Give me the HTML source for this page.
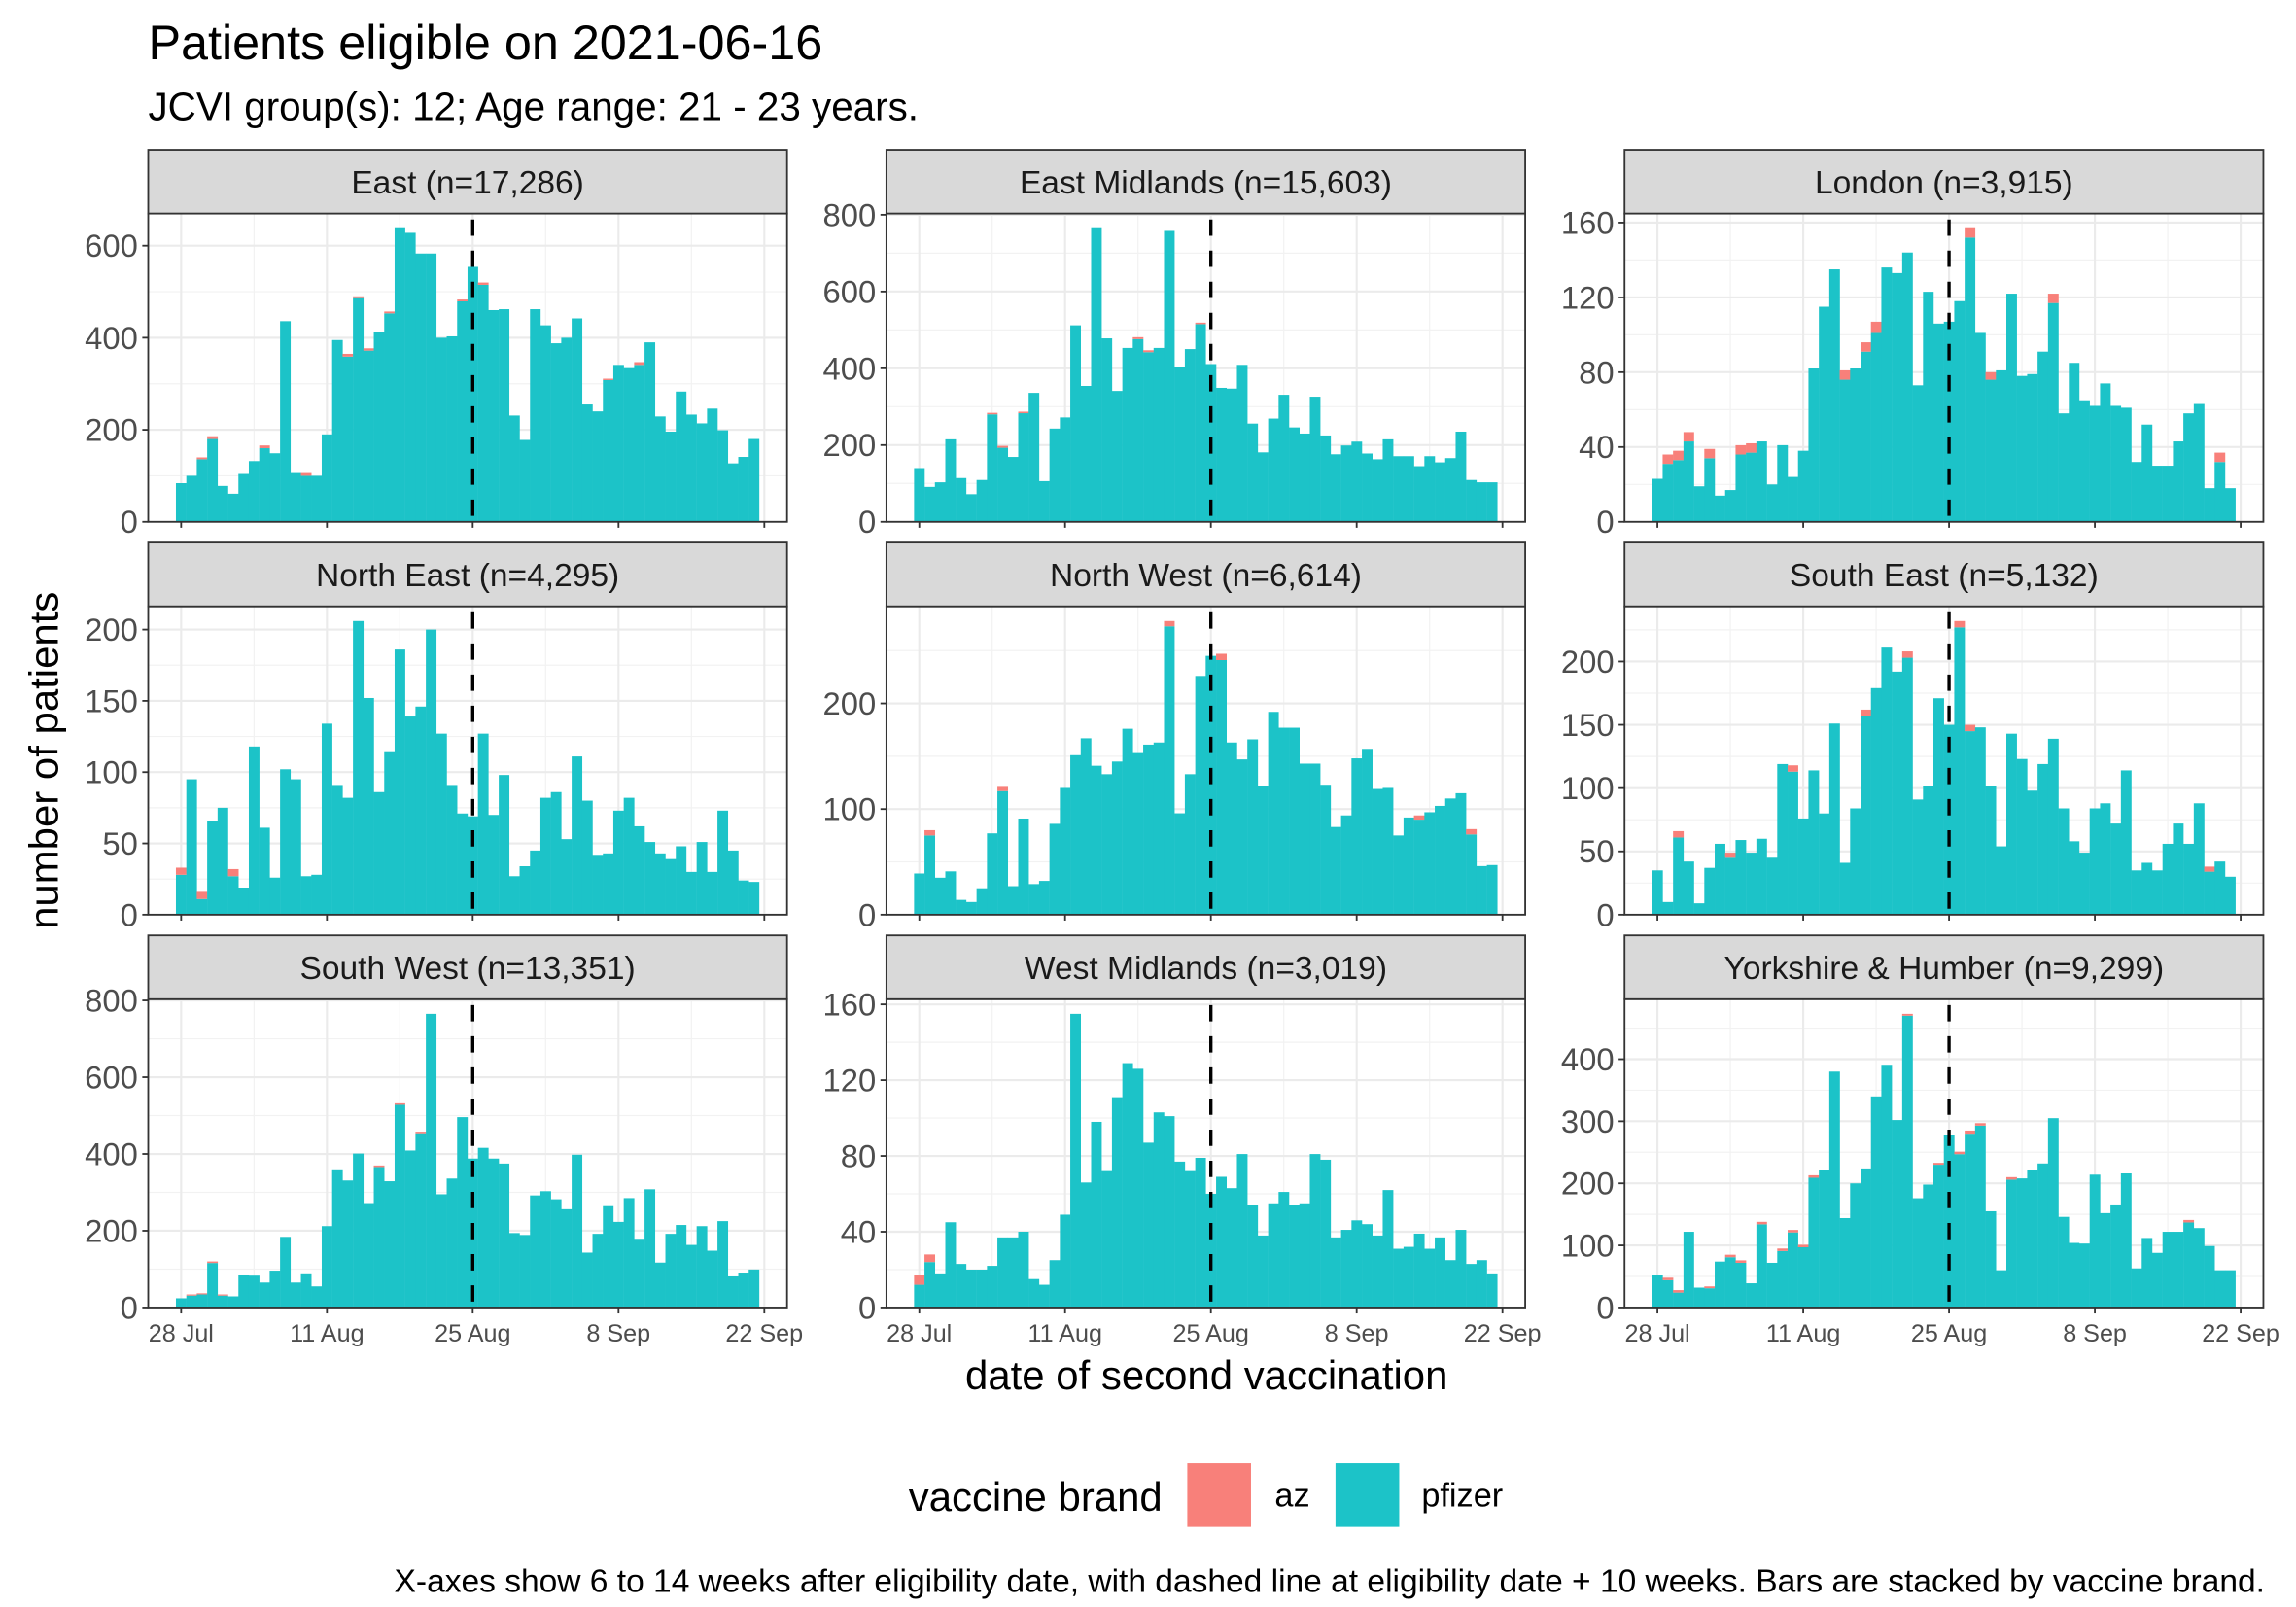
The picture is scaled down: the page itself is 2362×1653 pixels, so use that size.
<!DOCTYPE html>
<html><head><meta charset="utf-8"><style>
html,body{margin:0;padding:0;background:#fff;}
svg{display:block;font-family:"Liberation Sans",Arial,sans-serif;}
</style></head><body>
<svg id="chart" width="2362" height="1653" viewBox="0 0 1549 1084" xmlns="http://www.w3.org/2000/svg">
<text x="100" y="40" font-size="33" fill="#000">Patients eligible on 2021-06-16</text>
<text x="100" y="81" font-size="26.5" fill="#000">JCVI group(s): 12; Age range: 21 - 23 years.</text>
<text transform="translate(39,513) rotate(-90)" text-anchor="middle" font-size="27.5" fill="#000">number of patients</text>
<text x="814" y="937" text-anchor="middle" font-size="27.5" fill="#000">date of second vaccination</text>
<g>
<text x="613" y="1019" font-size="27.5" fill="#000">vaccine brand</text>
<rect x="801" y="987" width="43" height="43" fill="#f8807a"/>
<text x="860" y="1016" font-size="22.5" fill="#000">az</text>
<rect x="901" y="987" width="43" height="43" fill="#1cc3c8"/>
<text x="959" y="1016" font-size="22.5" fill="#000">pfizer</text>
</g>
<text x="1528" y="1074" text-anchor="end" font-size="22" fill="#000">X-axes show 6 to 14 weeks after eligibility date, with dashed line at eligibility date + 10 weeks. Bars are stacked by vaccine brand.</text>
<g id="panels"></g>
</svg>
<script>
const regions = ["East (n=17,286)","East Midlands (n=15,603)","London (n=3,915)","North East (n=4,295)","North West (n=6,614)","South East (n=5,132)","South West (n=13,351)","West Midlands (n=3,019)","Yorkshire & Humber (n=9,299)"];
const xTickLabels = ["28 Jul","11 Aug","25 Aug","8 Sep","22 Sep"];
const xTickDays = [0,14,28,42,56];
const dashedDay = 28;

const pfizerEast = [84,100,136,180,78,61,104,132,160,149,436,106,100,100,190,395,359,486,372,412,453,638,628,583,583,400,403,479,554,515,460,462,231,178,462,427,388,400,442,255,240,308,341,334,341,390,229,196,283,233,214,246,199,127,141,180];
const azEast = [0,0,4,6,0,0,0,0,6,0,0,0,6,0,0,0,6,4,5,0,4,0,0,0,0,0,0,4,0,5,0,0,0,0,0,0,0,0,0,0,0,3,0,0,6,0,0,0,0,0,0,0,0,0,0,0];
const pfizerEastMidlands = [140,91,103,215,114,72,109,280,193,169,283,336,106,243,272,512,354,765,478,341,453,476,442,453,758,403,450,515,411,349,347,409,256,181,269,331,246,230,326,225,176,199,209,178,163,215,171,171,145,171,155,166,235,109,103,103];
const azEastMidlands = [0,0,0,0,0,0,0,4,5,0,4,0,0,0,0,0,0,0,0,0,0,5,5,0,0,0,0,4,0,0,0,0,0,0,0,0,0,0,0,0,0,0,0,0,0,0,0,0,0,0,0,0,0,0,0,0];
const pfizerLondon = [23,31,33,43,19,34,14,17,36,37,43,20,41,24,38,82,115,135,76,82,91,101,136,133,144,73,123,106,107,118,152,101,76,81,122,78,79,91,117,58,85,65,62,74,62,61,32,52,30,30,43,58,63,18,32,18];
const azLondon = [0,5,5,5,0,5,0,0,5,5,0,0,0,0,0,0,0,0,5,0,5,6,0,0,0,0,0,0,0,0,5,0,4,0,0,0,0,0,5,0,0,0,0,0,0,0,0,0,0,0,0,0,0,0,5,0];
const pfizerNorthEast = [28,95,11,66,75,27,19,118,61,26,102,95,27,28,134,91,82,206,152,86,114,186,139,146,200,127,91,71,69,127,70,98,27,34,45,82,86,53,111,80,42,43,73,82,62,51,43,39,48,30,51,30,73,45,24,23];
const azNorthEast = [5,0,5,0,0,5,0,0,0,0,0,0,0,0,0,0,0,0,0,0,0,0,0,0,0,0,0,0,0,0,0,0,0,0,0,0,0,0,0,0,0,0,0,0,0,0,0,0,0,0,0,0,0,0,0,0];
const pfizerNorthWest = [39,75,35,41,14,12,25,77,117,27,91,29,32,86,120,151,167,141,133,145,176,153,161,163,273,96,133,226,245,241,163,147,166,122,192,177,177,143,143,123,83,94,148,157,119,120,75,92,90,97,103,110,115,76,46,47];
const azNorthWest = [0,5,0,0,0,0,0,0,4,0,0,0,0,0,0,0,0,0,0,0,0,0,0,0,5,0,0,0,0,6,0,0,0,0,0,0,0,0,0,0,0,0,0,0,0,0,0,0,4,0,0,0,0,5,0,0];
const pfizerSouthEast = [35,10,61,42,9,37,56,45,59,49,60,45,119,113,76,114,80,151,41,84,157,179,211,192,203,91,102,171,150,227,145,148,102,54,143,123,98,119,139,84,58,49,84,88,72,114,35,41,35,56,72,56,88,34,42,30];
const azSouthEast = [0,0,5,0,0,0,0,4,0,0,0,0,0,5,0,0,0,0,0,0,5,0,0,0,5,0,0,0,0,5,5,0,0,0,0,0,0,0,0,0,0,0,0,0,0,0,0,0,0,0,0,0,0,4,0,0];
const pfizerSouthWest = [24,31,34,116,31,29,86,83,65,96,184,65,89,55,212,360,331,401,272,366,329,528,409,454,765,295,336,496,388,416,388,375,194,189,292,303,282,256,398,143,192,264,223,285,179,308,117,192,215,163,212,148,225,81,91,99];
const azSouthWest = [0,3,3,4,3,0,0,0,0,0,0,0,0,0,0,0,0,0,0,4,0,4,0,4,0,0,0,0,0,0,0,0,0,0,0,0,0,0,0,0,0,0,0,0,0,0,0,0,0,0,0,0,0,0,0,0];
const pfizerWestMidlands = [12,24,18,45,23,20,20,22,37,37,40,15,12,25,49,155,66,98,72,111,129,126,87,103,101,77,72,79,60,69,63,81,54,38,55,61,54,55,81,78,37,41,46,44,38,62,31,32,39,31,37,25,41,23,25,18];
const azWestMidlands = [5,4,0,0,0,0,0,0,0,0,0,0,0,0,0,0,0,0,0,0,0,0,0,0,0,0,0,0,0,0,0,0,0,0,0,0,0,0,0,0,0,0,0,0,0,0,0,0,0,0,0,0,0,0,0,0];
const pfizerYorkshire = [52,44,24,122,32,31,74,81,72,39,134,72,91,121,97,209,222,380,144,200,224,340,391,302,470,176,198,230,278,247,280,293,155,60,206,208,221,232,305,146,104,103,214,152,166,216,63,112,88,122,122,137,128,99,60,60];
const azYorkshire = [0,4,4,0,0,3,0,4,4,0,4,0,4,4,4,4,0,0,0,0,0,0,0,0,3,0,0,3,0,4,5,4,0,0,4,0,0,0,0,0,0,0,0,0,0,0,0,0,0,0,0,4,0,0,0,0];

const yTicksEast = [0,200,400,600];
const yTicksEastMidlands = [0,200,400,600,800];
const yTicksLondon = [0,40,80,120,160];
const yTicksNorthEast = [0,50,100,150,200];
const yTicksNorthWest = [0,100,200];
const yTicksSouthEast = [0,50,100,150,200];
const yTicksSouthWest = [0,200,400,600,800];
const yTicksWestMidlands = [0,40,80,120,160];
const yTicksYorkshire = [0,100,200,300,400];

const pfizerSeries = [pfizerEast,pfizerEastMidlands,pfizerLondon,pfizerNorthEast,pfizerNorthWest,pfizerSouthEast,pfizerSouthWest,pfizerWestMidlands,pfizerYorkshire];
const azSeries = [azEast,azEastMidlands,azLondon,azNorthEast,azNorthWest,azSouthEast,azSouthWest,azWestMidlands,azYorkshire];
const yTickSets = [yTicksEast,yTicksEastMidlands,yTicksLondon,yTicksNorthEast,yTicksNorthWest,yTicksSouthEast,yTicksSouthWest,yTicksWestMidlands,yTicksYorkshire];

const NS = "http://www.w3.org/2000/svg";
const root = document.getElementById('panels');
function mk(tag, attrs, parent){
  const e = document.createElementNS(NS, tag);
  for (const k in attrs) e.setAttribute(k, attrs[k]);
  parent.appendChild(e);
  return e;
}
const colX = [100, 598, 1096];
const rowY = [101, 366, 631];
const PW = 431, STRIP = 43, PH = 208;
const DAY = 7.026, DAY0OFF = 22.2;

for (let r = 0; r < 9; r++){
  const col = r % 3, row = Math.floor(r/3);
  const L = colX[col], T = rowY[row] + STRIP, B = T + PH;
  const g = mk('g', {}, root);
  
  
  const pf = pfizerSeries[r], az = azSeries[r];
  const totals = pf.map((v,i)=>v+az[i]);
  const ymax = Math.max(...totals) * 1.05;
  const ys = v => B - v / ymax * PH;
  const xs = d => L + DAY0OFF + d * DAY;
  const bg = mk('rect', {x:L, y:T, width:PW, height:PH, fill:'#fff'}, g);
  
  
  const ticks = yTickSets[r];
  const step = ticks[1] - ticks[0];
  for (let v = step/2; v < ymax; v += step){
    if (ticks.indexOf(v) >= 0) continue;
    const ln = mk('line', {x1:L, x2:L+PW, y1:ys(v), y2:ys(v), stroke:'#f2f2f2', 'stroke-width':0.8}, g);
    
    
  }
  for (let i = 0; i < xTickDays.length - 1; i++){
    const d = (xTickDays[i] + xTickDays[i+1]) / 2;
    const ln = mk('line', {x1:xs(d), x2:xs(d), y1:T, y2:B, stroke:'#f2f2f2', 'stroke-width':0.8}, g);
    
    
  }
  ticks.forEach(v => {
    const ln = mk('line', {x1:L, x2:L+PW, y1:ys(v), y2:ys(v), stroke:'#ebebeb', 'stroke-width':1.4}, g);
    
    
  });
  xTickDays.forEach(d => {
    const ln = mk('line', {x1:xs(d), x2:xs(d), y1:T, y2:B, stroke:'#ebebeb', 'stroke-width':1.4}, g);
    
    
  });
  for (let i = 0; i < pf.length; i++){
    const x0 = xs(i - 0.5);
    const b1 = mk('rect', {x:x0, y:ys(pf[i]), width:DAY+0.15, height:B - ys(pf[i]), fill:'#1cc3c8'}, g);
    
    
    if (az[i] > 0){
      const b2 = mk('rect', {x:x0, y:ys(pf[i]+az[i]), width:DAY+0.15, height:ys(pf[i]) - ys(pf[i]+az[i]), fill:'#f8807a'}, g);
      
      
    }
  }
  const dl = mk('line', {x1:xs(dashedDay), x2:xs(dashedDay), y1:T+4, y2:B, stroke:'#000', 'stroke-width':2.2, 'stroke-dasharray':'11 10'}, g);
  
  
  const bd = mk('rect', {x:L, y:T, width:PW, height:PH, fill:'none', stroke:'#333', 'stroke-width':1.2}, g);
  
  
  const st = mk('rect', {x:L, y:rowY[row], width:PW, height:STRIP, fill:'#d9d9d9', stroke:'#333', 'stroke-width':1.2}, g);
  
  
  const stt = mk('text', {x:L+PW/2, y:rowY[row]+29.5, 'text-anchor':'middle', 'font-size':22, fill:'#1a1a1a'}, g);
  stt.textContent = regions[r];
  
  
  ticks.forEach(v => {
    const tk = mk('line', {x1:L-4, x2:L, y1:ys(v), y2:ys(v), stroke:'#333', 'stroke-width':1.2}, g);
    
    
    const tl = mk('text', {x:L-7, y:ys(v)+7.5, 'text-anchor':'end', 'font-size':21.5, fill:'#4d4d4d'}, g);
    tl.textContent = v;
    
    
  });
  xTickDays.forEach((d, k) => {
    const tk = mk('line', {x1:xs(d), x2:xs(d), y1:B, y2:B+4, stroke:'#333', 'stroke-width':1.2}, g);
    
    
    if (row === 2){
      const tl = mk('text', {x:xs(d), y:B+23, 'text-anchor':'middle', 'font-size':16.5, fill:'#4d4d4d'}, g);
      tl.textContent = xTickLabels[k];
      
      
    }
  });
}
</script>
</body></html>
